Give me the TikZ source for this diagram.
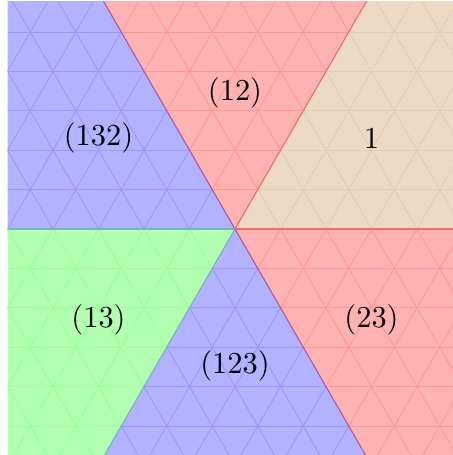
\documentclass[tikz,border=0pt]{standalone}
\begin{document}
\begin{tikzpicture}[x=0.525cm,y=0.525cm,
  lbl/.style={inner sep=1pt, font=\normalsize},
  border/.style={line width=0.35pt}]
\useasboundingbox (-5.165,-4.967) rectangle (4.791,5.033);
\begin{scope}
\clip (-5,-5) rectangle (5,5);
\foreach \s/\c/\g in {0/brown/brown!40,60/red/red!40,120/blue/blue!40,180/green/green!40,240/blue/blue!40,300/red/red!40}{
  \begin{scope}
    \clip (0,0) -- (\s:10) -- ({\s+30}:12) -- ({\s+60}:10) -- cycle;
    \fill[\c!30] (-6,-6) rectangle (6,6);
    \begin{scope}[draw=\g, line width=0.3pt]
      \foreach \k in {-7,...,7}{
        \draw (-7,{\k*0.8660254}) -- (7,{\k*0.8660254});
      }
      \foreach \a in {-14,...,14}{
        \draw ({\a-4},-6.9282) -- ({\a+4},6.9282);
        \draw ({\a+4},-6.9282) -- ({\a-4},6.9282);
      }
    \end{scope}
  \end{scope}
}
\coordinate (O) at (0,0);
\coordinate (E) at (0:10);
\coordinate (NE) at (60:10);
\coordinate (NW) at (120:10);
\coordinate (W) at (180:10);
\coordinate (SW) at (240:10);
\coordinate (SE) at (300:10);
\draw[border, red!60] (O) -- (E);
\draw[border, red!60] (O) -- (NE);
\draw[border, blue!50!red!65] (O) -- (NW);
\draw[border, blue!50!green!55] (O) -- (W);
\draw[border, blue!50!green!55] (O) -- (SW);
\draw[border, blue!50!red!65] (O) -- (SE);
\end{scope}
\node[lbl] (n1) at (3,2) {1};
\node[lbl] (n12) at (0,3) {(12)};
\node[lbl] (n132) at (-3,2) {(132)};
\node[lbl] (n13) at (-3,-2) {(13)};
\node[lbl] (n123) at (0,-3) {(123)};
\node[lbl] (n23) at (3,-2) {(23)};
\end{tikzpicture}
\end{document}
